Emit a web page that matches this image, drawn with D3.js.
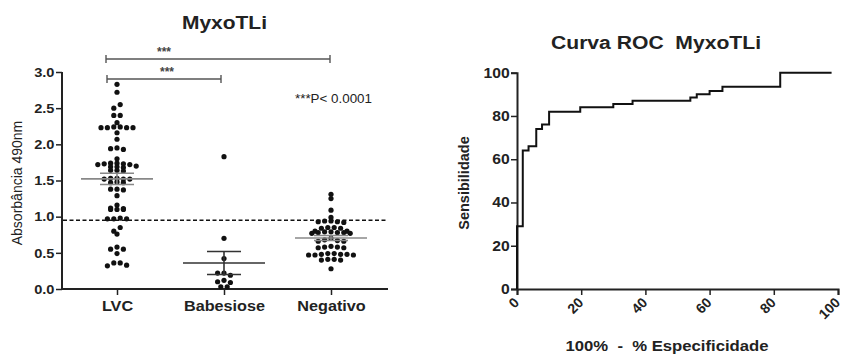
<!DOCTYPE html>
<html>
<head>
<meta charset="utf-8">
<script src="https://cdn.jsdelivr.net/npm/d3@7"></script>
<style>
  body { margin: 0; background: #fff; }
  text { font-family: "Liberation Sans", Arial, sans-serif; fill: #222; }
</style>
</head>
<body>
<div id="chart"></div>
<script>
// data
var groups = ["LVC", "Babesiose", "Negativo"];
var lvc = [2.83, 2.72, 2.55, 2.50, 2.40, 2.40,
  2.30, 2.24, 2.24, 2.23, 2.23, 2.23, 2.23, 2.16, 2.07,
  1.94, 1.93, 1.95, 1.80,
  1.74, 1.72, 1.73, 1.72, 1.73, 1.74,
  1.69, 1.69, 1.68, 1.70,
  1.64, 1.63, 1.64,
  1.53, 1.52, 1.52, 1.52, 1.53,
  1.47, 1.47, 1.48,
  1.38, 1.37, 1.38,
  1.29,
  1.16, 1.11, 1.10, 1.10, 1.10, 1.12,
  0.98, 0.97, 0.97, 0.97,
  0.85, 0.76, 0.80,
  0.58, 0.55, 0.49, 0.55,
  0.36, 0.32, 0.33, 0.36];
var babesiose = [1.83, 0.70, 0.42, 0.22, 0.22, 0.19, 0.12, 0.10, 0.09, 0.03, 0.03];
var negativo = [1.31, 1.25, 1.09, 0.99, 0.94, 0.94, 0.93, 0.93, 0.92,
  0.85, 0.85, 0.84, 0.84,
  0.80, 0.79, 0.79, 0.78, 0.78, 0.78, 0.77, 0.77, 0.80,
  0.70, 0.68, 0.67, 0.66, 0.66,
  0.59, 0.58, 0.58, 0.57, 0.57,
  0.49, 0.48, 0.48, 0.47, 0.47, 0.47, 0.48, 0.49,
  0.40, 0.40, 0.41, 0.41,
  0.28];
var yTicks = [0, 0.5, 1.0, 1.5, 2.0, 2.5, 3.0];
var cutoff = 0.95;

// ROC curve (100% - specificity, sensitivity)
var rocX = [0, 0, 1.8, 3.6, 6, 7.8, 10, 19.7, 30, 36, 54, 56, 60, 64, 82, 98];
var rocY = [0, 29, 64, 66, 74, 76, 82, 84, 85.5, 87, 88.5, 90, 91.5, 93.5, 100, 100];
var rocTicks = [0, 20, 40, 60, 80, 100];

var svg = d3.select("#chart")
  .append("svg")
    .attr("width", 847)
    .attr("height", 360);

// ---------- left panel: scatter ----------
var left = svg.append("g");

var x = d3.scalePoint()
  .domain(groups)
  .range([117, 331]);
var y = d3.scaleLinear()
  .domain([0, 3])
  .range([289, 72]);

left.append("text")
  .attr("x", 224.5).attr("y", 29)
  .attr("text-anchor", "middle")
  .attr("textLength", 85).attr("lengthAdjust", "spacingAndGlyphs")
  .style("font-size", "18px").style("font-weight", "bold")
  .text("MyxoTLi");

// y axis
var yAxis = left.append("g")
  .attr("transform", "translate(62,0)")
  .call(d3.axisLeft(y).tickValues(yTicks).tickFormat(d3.format(".1f")).tickSizeOuter(0).tickSize(6));
yAxis.select(".domain").attr("stroke", "#222").attr("stroke-width", 2).attr("d", "M0," + y(3) + "V" + y(0));
yAxis.selectAll(".tick line").attr("stroke", "#222").attr("stroke-width", 1.5);
yAxis.selectAll(".tick text")
  .style("font-size", "13.5px").style("font-weight", "bold")
  .attr("x", -7).attr("transform", "scale(1.08,1)");

// x axis
var xAxis = left.append("g")
  .attr("transform", "translate(0,289)")
  .call(d3.axisBottom(x).tickSizeOuter(0).tickSize(6));
xAxis.select(".domain").attr("stroke", "#222").attr("stroke-width", 2).attr("d", "M62,0H388");
xAxis.selectAll(".tick line").attr("stroke", "#222").attr("stroke-width", 1.5);
xAxis.selectAll(".tick text")
  .style("font-size", "15px").style("font-weight", "bold")
  .attr("y", 11).attr("transform", "scale(1.08,1)");

left.append("text")
  .attr("transform", "translate(22,183) rotate(-90)")
  .attr("text-anchor", "middle")
  .style("font-size", "14px")
  .text("Absorbância 490nm");

// cutoff dashed line
left.append("line")
  .attr("x1", 63).attr("x2", 388)
  .attr("y1", y(cutoff)).attr("y2", y(cutoff))
  .attr("stroke", "#111").attr("stroke-width", 1.6)
  .attr("stroke-dasharray", "4,2.5");

// row-based scatter: values close together share a row and spread sideways
function swarm(values, cx) {
  var gap = 6.4, rowSpan = 0.05;
  var sorted = values.slice().sort(function(a, b) { return b - a; });
  var rows = [];
  sorted.forEach(function(v) {
    var row = rows[rows.length - 1];
    if (row && row[0] - v <= rowSpan) row.push(v);
    else rows.push([v]);
  });
  var placed = [];
  rows.forEach(function(row) {
    var n = row.length;
    row.forEach(function(v, j) {
      // alternate around the centre: 0, -1, +1, -2, +2 ...
      var slot = j === 0 ? 0 : Math.ceil(j / 2) * (j % 2 ? -1 : 1);
      var shift = n % 2 ? 0 : 0.5;
      placed.push({x: cx + (slot + shift) * gap, y: y(v), v: v});
    });
  });
  return placed;
}

var series = [lvc, babesiose, negativo];
var lineColors = ["#888", "#333", "#888"];
var meanHalf = [36, 41, 36];

series.forEach(function(vals, i) {
  var cx = x(groups[i]);
  var pts = swarm(vals, cx);
  left.append("g").selectAll("circle")
    .data(pts)
    .enter()
    .append("circle")
      .attr("cx", function(d) { return d.x; })
      .attr("cy", function(d) { return d.y; })
      .attr("r", 2.6)
      .attr("fill", "#111");

  var m = d3.mean(vals);
  var sem = d3.deviation(vals) / Math.sqrt(vals.length);
  var g = left.append("g").attr("stroke", lineColors[i]).attr("stroke-width", 1.6);
  g.append("line")
    .attr("x1", cx - meanHalf[i]).attr("x2", cx + meanHalf[i])
    .attr("y1", y(m)).attr("y2", y(m));
  g.append("line")
    .attr("x1", cx).attr("x2", cx)
    .attr("y1", y(m + sem)).attr("y2", y(m - sem));
  [m + sem, m - sem].forEach(function(v) {
    g.append("line")
      .attr("x1", cx - 17).attr("x2", cx + 17)
      .attr("y1", y(v)).attr("y2", y(v));
  });
});

// significance brackets
function bracket(x1, x2, by, sy) {
  var g = left.append("g").attr("stroke", "#555").attr("stroke-width", 1.4);
  g.append("line").attr("x1", x1).attr("x2", x2).attr("y1", by).attr("y2", by);
  g.append("line").attr("x1", x1).attr("x2", x1).attr("y1", by - 4).attr("y2", by + 4);
  g.append("line").attr("x1", x2).attr("x2", x2).attr("y1", by - 4).attr("y2", by + 4);
  left.append("text")
    .attr("x", sy).attr("y", by - 3)
    .attr("text-anchor", "middle")
    .style("font-size", "12px").style("font-weight", "bold").style("fill", "#444")
    .text("***");
}
bracket(106, 330, 59, 164);
bracket(107, 221, 79, 167);

left.append("text")
  .attr("x", 295).attr("y", 103)
  .attr("textLength", 77).attr("lengthAdjust", "spacingAndGlyphs")
  .style("font-size", "13px")
  .text("***P< 0.0001");

// ---------- right panel: ROC ----------
var right = svg.append("g");

var rx = d3.scaleLinear().domain([0, 100]).range([517, 838]);
var ry = d3.scaleLinear().domain([0, 100]).range([289, 72.7]);

right.append("text")
  .attr("x", 656).attr("y", 49)
  .attr("text-anchor", "middle")
  .attr("textLength", 210).attr("lengthAdjust", "spacingAndGlyphs")
  .style("font-size", "18px").style("font-weight", "bold")
  .style("white-space", "pre")
  .text("Curva ROC  MyxoTLi");

var ryAxis = right.append("g")
  .attr("transform", "translate(517,0)")
  .call(d3.axisLeft(ry).tickValues(rocTicks).tickSizeOuter(0).tickSize(6));
ryAxis.select(".domain").attr("stroke", "#222").attr("stroke-width", 2);
ryAxis.selectAll(".tick line").attr("stroke", "#222").attr("stroke-width", 1.5);
ryAxis.selectAll(".tick text")
  .style("font-size", "14px").style("font-weight", "bold")
  .attr("x", -6.5).attr("transform", "scale(1.12,1)");

var rxAxis = right.append("g")
  .attr("transform", "translate(0,289)")
  .call(d3.axisBottom(rx).tickValues(rocTicks).tickSizeOuter(0).tickSize(6));
rxAxis.select(".domain").attr("stroke", "#222").attr("stroke-width", 2);
rxAxis.selectAll(".tick line").attr("stroke", "#222").attr("stroke-width", 1.5);
rxAxis.selectAll(".tick text")
  .style("font-size", "14px").style("font-weight", "bold")
  .attr("transform", "translate(-1,11) rotate(-45)")
  .style("text-anchor", "end")
  .attr("x", 0).attr("y", 0).attr("dy", "0.35em");

right.append("text")
  .attr("transform", "translate(469,183) rotate(-90)")
  .attr("text-anchor", "middle")
  .style("font-size", "14.5px").style("font-weight", "bold")
  .text("Sensibilidade");

right.append("text")
  .attr("x", 667).attr("y", 351)
  .attr("text-anchor", "middle")
  .attr("textLength", 203).attr("lengthAdjust", "spacingAndGlyphs")
  .style("font-size", "15.5px").style("font-weight", "bold")
  .style("white-space", "pre")
  .text("100%  -  % Especificidade");

var rocLine = d3.line()
  .x(function(d, i) { return rx(rocX[i]); })
  .y(function(d, i) { return ry(rocY[i]); })
  .curve(d3.curveStepAfter);

right.append("path")
  .attr("d", rocLine(rocX))
  .attr("fill", "none")
  .attr("stroke", "#111")
  .attr("stroke-width", 2);
</script>
</body>
</html>
